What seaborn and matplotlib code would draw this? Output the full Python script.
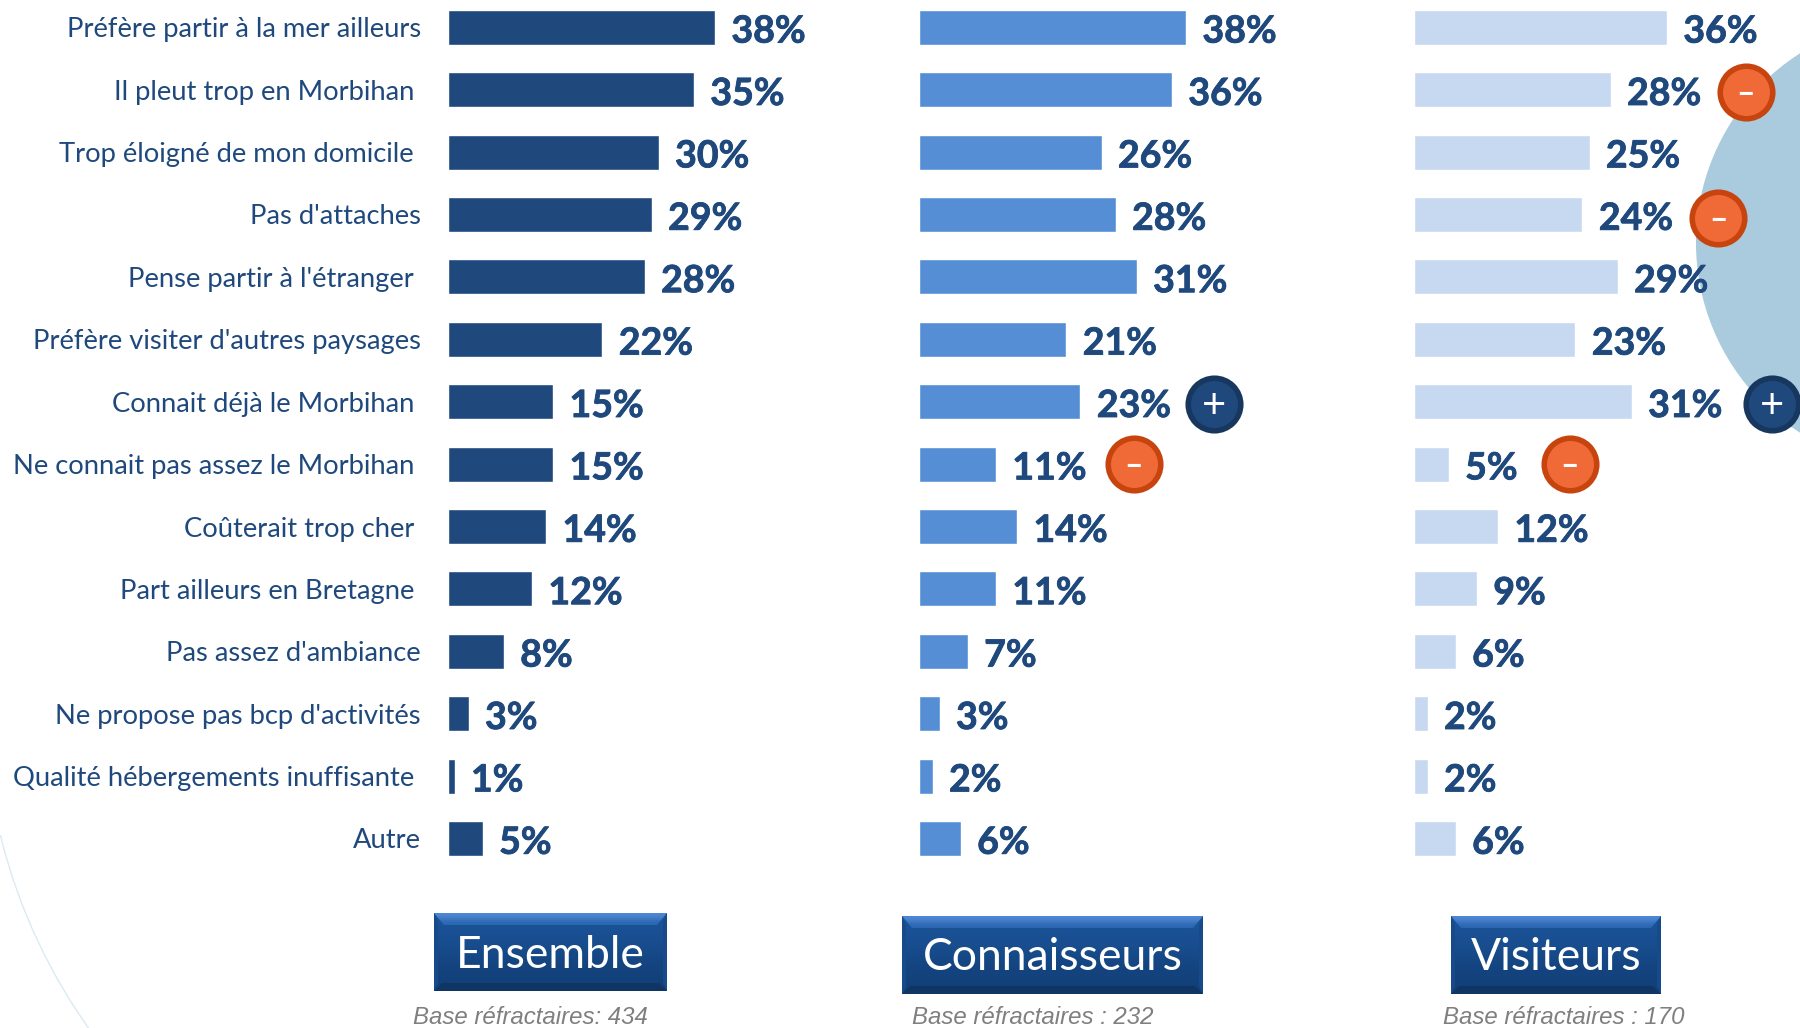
import numpy as np
import pandas as pd
import matplotlib
matplotlib.use("Agg")
import matplotlib.pyplot as plt
import matplotlib.patheffects as pe
import seaborn as sns
from matplotlib.patches import Circle, Polygon, Rectangle

categories = ["Préfère partir à la mer ailleurs", "Il pleut trop en Morbihan", "Trop éloigné de mon domicile",
              "Pas d'attaches", "Pense partir à l'étranger", "Préfère visiter d'autres paysages",
              "Connait déjà le Morbihan", "Ne connait pas assez le Morbihan", "Coûterait trop cher",
              "Part ailleurs en Bretagne", "Pas assez d'ambiance", "Ne propose pas bcp d'activités",
              "Qualité hébergements inuffisante", "Autre"]
ensemble = [38, 35, 30, 29, 28, 22, 15, 15, 14, 12, 8, 3, 1, 5]
connaisseurs = [38, 36, 26, 28, 31, 21, 23, 11, 14, 11, 7, 3, 2, 6]
visiteurs = [36, 28, 25, 24, 29, 23, 31, 5, 12, 9, 6, 2, 2, 6]
flags_ensemble = [""] * 14
flags_connaisseurs = ["", "", "", "", "", "", "+", "-", "", "", "", "", "", ""]
flags_visiteurs = ["", "-", "", "-", "", "", "+", "-", "", "", "", "", "", ""]
groups = ["Ensemble", "Connaisseurs", "Visiteurs"]
bases = ["Base réfractaires: 434", "Base réfractaires : 232", "Base réfractaires : 170"]

W, H = 1800, 1028
PX_PER_PCT = 7.04
ROW_H = 62.4
ROW0 = 27.3
NAVY = "#1F497D"
bar_colors = ["#1F497D", "#558ED5", "#C6D9F1"]
bar_left = [447.5, 918.5, 1413.5]
bar_right = [900, 1400, 1800]
# the labels of the source are not quite aligned, two right edges
label_pad = [26.5, 33.5, 33.5, 26.5, 33.5, 26.5, 33.5, 33.5, 33.5, 33.5, 26.5, 26.5, 33.5, 26.5]
button_box = [(434, 667, 913, 991), (902, 1203, 916, 994), (1451, 1661, 916, 994)]
base_x = [530, 1033, 1564]
# pixel nudges of the +/- badges from the end of their bar, by row
badge_dx = [[], {6: 134, 7: 138}, {1: 135, 3: 136, 6: 140, 7: 121}]
badge_dy = [[], {6: 2.7, 7: -0.3}, {1: 2.7, 3: 3.7, 6: 2.7, 7: -0.3}]

df = pd.DataFrame({
    "cat": categories * 3,
    "val": ensemble + connaisseurs + visiteurs,
    "group": np.repeat(groups, 14),
})

sns.set_theme(style="white")
plt.rcParams["font.family"] = ["Lato", "DejaVu Sans"]

fig = plt.figure(figsize=(W / 100, H / 100), dpi=100)

# background + buttons, in pixel coordinates
bg = fig.add_axes([0, 0, 1, 1], zorder=0)
bg.set_xlim(0, W)
bg.set_ylim(H, 0)
bg.axis("off")
bg.add_patch(Circle((1921, 243), 225, fc="#A9CBDD", ec="none"))
faint = Circle((551, 700), 567, fc="none", ec="#DCEAF2", lw=1)
bg.add_patch(faint)
faint.set_clip_path(Rectangle((0, 835), 120, 193, transform=bg.transData))


def draw_button(box, label):
    x0, x1, y0, y1 = box
    grad = np.array([[0.0], [1.0]])
    cmap = matplotlib.colors.LinearSegmentedColormap.from_list("b", ["#1B5499", "#123F78"])
    bg.imshow(grad, extent=(x0, x1, y1, y0), cmap=cmap, aspect="auto", zorder=2, interpolation="bicubic")
    cmap_top = matplotlib.colors.LinearSegmentedColormap.from_list("t", ["#4F88D4", "#2A65B0"])
    im = bg.imshow(grad, extent=(x0, x1, y0 + 12, y0), cmap=cmap_top, aspect="auto", zorder=3, interpolation="bicubic")
    im.set_clip_path(Polygon([(x0, y0), (x1, y0), (x1 - 10, y0 + 12), (x0 + 10, y0 + 12)], transform=bg.transData))
    bg.add_patch(Polygon([(x0, y1), (x1, y1), (x1 - 8, y1 - 8), (x0 + 8, y1 - 8)], fc="#0F3563", ec="none", zorder=3))
    bg.add_patch(Polygon([(x0, y0), (x0 + 4, y0 + 10), (x0 + 4, y1 - 8), (x0, y1)], fc="#174A88", ec="none", zorder=3))
    bg.add_patch(Polygon([(x1, y0), (x1 - 4, y0 + 10), (x1 - 4, y1 - 8), (x1, y1)], fc="#174A88", ec="none", zorder=3))
    bg.text((x0 + x1) / 2, (y0 + y1) / 2 + 3, label, color="white", fontsize=32, ha="center", va="center", zorder=4)


for box, g, base, bx in zip(button_box, groups, bases, base_x):
    draw_button(box, g)
    bg.text(bx, 1018, base, color="#7F7F7F", fontsize=17.3, style="italic", family="Liberation Sans",
            ha="center", va="center")
bg.set_xlim(0, W)
bg.set_ylim(H, 0)

all_flags = [flags_ensemble, flags_connaisseurs, flags_visiteurs]
for k, g in enumerate(groups):
    left = bar_left[k]
    width = bar_right[k] - left
    ax = fig.add_axes([left / W, 0, width / W, 1], zorder=1)
    ax.patch.set_alpha(0)
    sub = df[df["group"] == g]
    sns.barplot(data=sub, x="val", y="cat", color=bar_colors[k], saturation=1, width=35 / ROW_H, ax=ax, errorbar=None)
    ax.set_xlim(0, width / PX_PER_PCT)
    ax.set_ylim((H - ROW0) / ROW_H, -ROW0 / ROW_H)
    ax.set_xlabel("")
    ax.set_ylabel("")
    ax.set_xticks([])
    sns.despine(ax=ax, left=True, bottom=True)
    labels = ax.bar_label(ax.containers[0], fmt="%g%%", padding=12, color=NAVY, fontsize=27, fontweight="bold")
    for t in labels:
        t.xyann = (11.8, -3.1)
        t.set_path_effects([pe.withStroke(linewidth=0.6, foreground=NAVY)])
    if k == 0:
        ax.tick_params(axis="y", length=0, labelsize=19.7, labelcolor=NAVY)
        for tick, pad in zip(ax.yaxis.get_major_ticks(), label_pad):
            tick.set_pad(pad * 0.72)
    else:
        ax.set_yticks([])

    for i, flag in enumerate(all_flags[k]):
        if not flag:
            continue
        v = sub["val"].iloc[i]
        bx = v + badge_dx[k][i] / PX_PER_PCT
        by = i + badge_dy[k][i] / ROW_H
        fill, edge = (NAVY, "#17375E") if flag == "+" else ("#F06A37", "#C8440F")
        ax.scatter([bx], [by], s=1430, c=fill, edgecolors=edge, linewidths=4, clip_on=False, zorder=5)
        if flag == "+":
            ax.text(bx, by + 0.02, "+", color="white", fontsize=30, ha="center", va="center", zorder=6)
        else:
            ax.text(bx, by + 0.02, "–", color="white", fontsize=23, fontweight="bold", ha="center", va="center", zorder=6)

fig.savefig("out.png", dpi=100)
